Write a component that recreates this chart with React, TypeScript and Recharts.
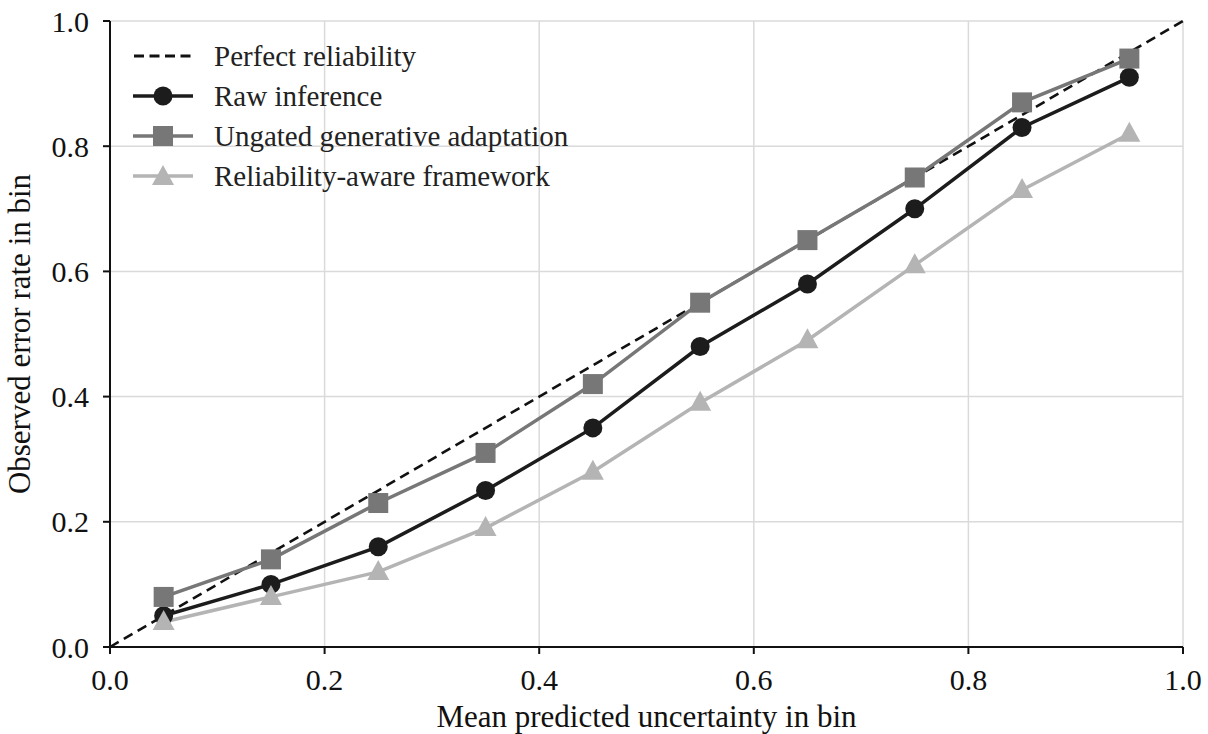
import { LineChart, Line, XAxis, YAxis, CartesianGrid } from "recharts";

const bins = [0.05, 0.15, 0.25, 0.35, 0.45, 0.55, 0.65, 0.75, 0.85, 0.95];
const rawInference = [0.05, 0.1, 0.16, 0.25, 0.35, 0.48, 0.58, 0.7, 0.83, 0.91];
const ungated = [0.08, 0.14, 0.23, 0.31, 0.42, 0.55, 0.65, 0.75, 0.87, 0.94];
const reliabilityAware = [0.04, 0.08, 0.12, 0.19, 0.28, 0.39, 0.49, 0.61, 0.73, 0.82];
const perfectX = [0, 1];
const ticks = [0, 0.2, 0.4, 0.6, 0.8, 1.0];

const data = bins.map((x, i) => ({
  x,
  raw: rawInference[i],
  ungated: ungated[i],
  aware: reliabilityAware[i],
}));
const perfect = perfectX.map((x) => ({ x, perfect: x }));

const FONT = "'Liberation Serif', 'DejaVu Serif', serif";
const C_RAW = "#1c1c1c";
const C_UNG = "#777777";
const C_AWR = "#b4b4b4";

const Circle = (props: any) => {
  const { cx, cy, key } = props;
  return <circle key={key} cx={cx} cy={cy} r={9.5} fill={C_RAW} />;
};
const Square = (props: any) => {
  const { cx, cy, key } = props;
  return <rect key={key} x={cx - 10} y={cy - 10} width={20} height={20} fill={C_UNG} />;
};
const Triangle = (props: any) => {
  const { cx, cy, key } = props;
  return (
    <polygon key={key} points={`${cx},${cy - 12} ${cx + 11},${cy + 8} ${cx - 11},${cy + 8}`} fill={C_AWR} />
  );
};

const legendItems = [
  { label: "Perfect reliability", kind: "dash" },
  { label: "Raw inference", kind: "raw" },
  { label: "Ungated generative adaptation", kind: "ung" },
  { label: "Reliability-aware framework", kind: "awr" },
];

function LegendBox() {
  return (
    <div style={{ position: "absolute", left: 133, top: 36, fontFamily: FONT, fontSize: 29, color: "#222" }}>
      {legendItems.map((it) => (
        <div key={it.label} style={{ display: "flex", alignItems: "center", height: 40 }}>
          <svg width={60} height={26} style={{ marginRight: 21 }}>
            {it.kind === "dash" && (
              <line x1={1} y1={13} x2={59} y2={13} stroke="#111" strokeWidth={2.8} strokeDasharray="10 5.5" />
            )}
            {it.kind === "raw" && (
              <>
                <line x1={0} y1={13} x2={60} y2={13} stroke={C_RAW} strokeWidth={3.5} />
                <circle cx={30} cy={13} r={9.5} fill={C_RAW} />
              </>
            )}
            {it.kind === "ung" && (
              <>
                <line x1={0} y1={13} x2={60} y2={13} stroke={C_UNG} strokeWidth={3.5} />
                <rect x={20} y={3} width={20} height={20} fill={C_UNG} />
              </>
            )}
            {it.kind === "awr" && (
              <>
                <line x1={0} y1={13} x2={60} y2={13} stroke={C_AWR} strokeWidth={3.5} />
                <polygon points="30,2 41,22 19,22" fill={C_AWR} />
              </>
            )}
          </svg>
          <span>{it.label}</span>
        </div>
      ))}
    </div>
  );
}

export default function App() {
  const tickStyle = { fontFamily: FONT, fontSize: 30, fill: "#111" };
  const labelStyle = { fontFamily: FONT, fontSize: 31, fill: "#111" };
  return (
    <div style={{ position: "absolute", left: 0, top: 0, width: 1208, height: 734, background: "#fff" }}>
      <LineChart width={1208} height={734} data={data} margin={{ top: 21, right: 25, bottom: 47, left: 50 }}>
        <CartesianGrid stroke="#dadada" strokeWidth={1.5} />
        <XAxis
          dataKey="x"
          type="number"
          domain={[0, 1]}
          ticks={ticks}
          tickFormatter={(v: number) => v.toFixed(1)}
          height={40}
          stroke="#111"
          strokeWidth={2}
          tickSize={7}
          tick={tickStyle}
          fontSize={30}
          tickMargin={15}
          label={{ value: "Mean predicted uncertainty in bin", position: "bottom", offset: 18, fontSize: 31, style: labelStyle }}
        />
        <XAxis xAxisId="top" orientation="top" type="number" domain={[0, 1]} height={0} tick={false} tickLine={false} stroke="#111" strokeWidth={2} />
        <YAxis
          type="number"
          domain={[0, 1]}
          ticks={ticks}
          tickFormatter={(v: number) => v.toFixed(1)}
          width={60}
          stroke="#111"
          strokeWidth={2}
          tickSize={7}
          tick={tickStyle}
          fontSize={30}
          tickMargin={14}
          label={{ value: "Observed error rate in bin", angle: -90, position: "insideLeft", dx: -36, fontSize: 31, style: { ...labelStyle, textAnchor: "middle" } }}
        />
        <YAxis yAxisId="right" orientation="right" type="number" domain={[0, 1]} width={0} tick={false} tickLine={false} stroke="#111" strokeWidth={2} />
        <Line data={perfect} dataKey="perfect" stroke="#111" strokeWidth={2.6} strokeDasharray="10 6" dot={false} isAnimationActive={false} />
        <Line dataKey="raw" stroke={C_RAW} strokeWidth={3.5} dot={Circle} activeDot={false} isAnimationActive={false} />
        <Line dataKey="ungated" stroke={C_UNG} strokeWidth={3.5} dot={Square} activeDot={false} isAnimationActive={false} />
        <Line dataKey="aware" stroke={C_AWR} strokeWidth={3.5} dot={Triangle} activeDot={false} isAnimationActive={false} />
      </LineChart>
      <LegendBox />
    </div>
  );
}
